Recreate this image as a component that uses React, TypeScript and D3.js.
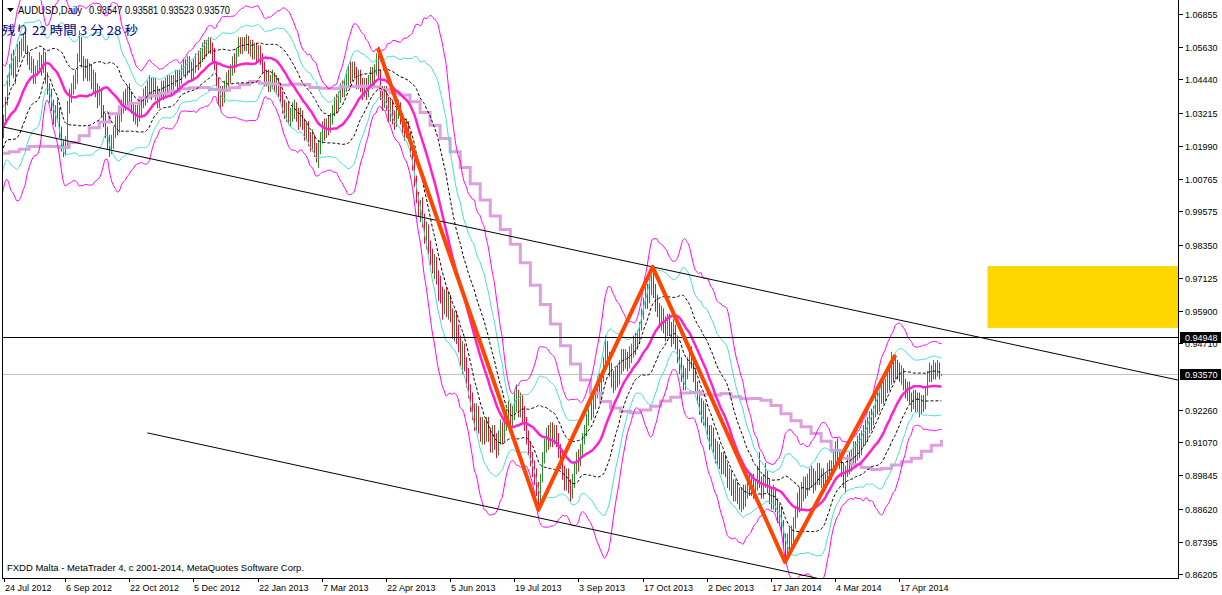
import React from 'react';
import * as d3 from 'd3';

// ---------- text / labels ----------
const symbolLabel = 'AUDUSD,Daily';
const quote = [0.93547, 0.93581, 0.93523, 0.9357];
const countdown = '残り 22 時間 3 分 28 秒';
const copyright = 'FXDD Malta - MetaTrader 4, c 2001-2014, MetaQuotes Software Corp.';

const dateLabels = ['24 Jul 2012', '6 Sep 2012', '22 Oct 2012', '5 Dec 2012', '22 Jan 2013', '7 Mar 2013', '22 Apr 2013', '5 Jun 2013', '19 Jul 2013', '3 Sep 2013', '17 Oct 2013', '2 Dec 2013', '17 Jan 2014', '4 Mar 2014', '17 Apr 2014'];
const dateLabelBars = [0, 32, 64, 96, 128, 160, 192, 224, 256, 288, 320, 352, 384, 416, 448];
const priceTicks = [1.06855, 1.0563, 1.0444, 1.03215, 1.0199, 1.00765, 0.99575, 0.9835, 0.97125, 0.959, 0.9471, 0.9226, 0.9107, 0.89845, 0.8862, 0.87395, 0.86205];

// ---------- price data (daily bars, index 0 = 24 Jul 2012) ----------
const priorCloses = [1.0120, 1.0100, 1.0150, 1.0250, 1.0280, 1.0320, 1.0340, 1.0270, 1.0220, 1.0190, 1.0170, 1.0240, 1.0200, 1.0270, 1.0300, 1.0330, 1.0400, 1.0420, 1.0350, 1.0270];
const priorWeeklyCloses = [1.0440, 1.0350, 1.0300, 1.0400, 1.0330, 1.0430, 1.0170, 1.0000, 0.9800, 0.9830, 0.9690, 0.9910, 1.0050, 1.0030, 1.0230, 1.0240, 1.0270, 1.0350];

const closes = [
  1.0240,1.0300,1.0365,1.0440,1.0480,1.0520,1.0470,1.0510,1.0560,1.0545,
  1.0575,1.0590,1.0560,1.0520,1.0495,1.0510,1.0450,1.0480,1.0500,1.0520,
  1.0480,1.0530,1.0450,1.0410,1.0390,1.0350,1.0300,1.0330,1.0320,1.0250,
  1.0200,1.0180,1.0220,1.0350,1.0380,1.0410,1.0440,1.0450,1.0530,1.0580,
  1.0510,1.0470,1.0500,1.0460,1.0480,1.0430,1.0450,1.0400,1.0370,1.0390,
  1.0330,1.0300,1.0250,1.0220,1.0190,1.0210,1.0250,1.0290,1.0270,1.0310,
  1.0340,1.0380,1.0360,1.0400,1.0370,1.0340,1.0310,1.0330,1.0300,1.0330,
  1.0360,1.0390,1.0380,1.0410,1.0430,1.0400,1.0430,1.0400,1.0370,1.0390,
  1.0420,1.0400,1.0430,1.0420,1.0440,1.0410,1.0440,1.0460,1.0430,1.0460,
  1.0480,1.0500,1.0480,1.0510,1.0490,1.0470,1.0500,1.0520,1.0510,1.0540,
  1.0560,1.0550,1.0570,1.0580,1.0560,1.0540,1.0500,1.0440,1.0380,1.0400,
  1.0370,1.0420,1.0450,1.0440,1.0480,1.0510,1.0500,1.0540,1.0580,1.0560,
  1.0580,1.0570,1.0590,1.0560,1.0570,1.0540,1.0560,1.0530,1.0550,1.0520,
  1.0490,1.0440,1.0460,1.0420,1.0440,1.0450,1.0420,1.0440,1.0400,1.0380,
  1.0350,1.0320,1.0340,1.0300,1.0310,1.0330,1.0350,1.0310,1.0290,1.0320,
  1.0280,1.0250,1.0270,1.0230,1.0200,1.0230,1.0180,1.0160,1.0190,1.0230,
  1.0260,1.0240,1.0280,1.0260,1.0300,1.0330,1.0360,1.0350,1.0380,1.0410,
  1.0400,1.0430,1.0450,1.0480,1.0460,1.0490,1.0470,1.0440,1.0460,1.0420,
  1.0400,1.0430,1.0400,1.0440,1.0470,1.0430,1.0480,1.0520,1.0470,1.0400,
  1.0370,1.0390,1.0360,1.0320,1.0350,1.0310,1.0290,1.0320,1.0340,1.0300,
  1.0270,1.0250,1.0280,1.0240,1.0190,1.0130,1.0080,1.0010,0.9960,0.9980,
  0.9930,0.9870,0.9890,0.9830,0.9800,0.9760,0.9780,0.9720,0.9670,0.9660,
  0.9620,0.9650,0.9600,0.9630,0.9580,0.9530,0.9560,0.9510,0.9480,0.9420,
  0.9450,0.9400,0.9350,0.9300,0.9250,0.9230,0.9180,0.9220,0.9170,0.9140,
  0.9170,0.9130,0.9180,0.9140,0.9100,0.9140,0.9120,0.9080,0.9120,0.9160,
  0.9130,0.9170,0.9200,0.9230,0.9190,0.9210,0.9250,0.9270,0.9230,0.9260,
  0.9210,0.9180,0.9130,0.9090,0.9050,0.9010,0.8990,0.8950,0.8900,0.8970,
  0.9050,0.9090,0.9140,0.9110,0.9150,0.9120,0.9150,0.9110,0.9080,0.9050,
  0.9000,0.8960,0.8990,0.8950,0.8930,0.8960,0.9010,0.9050,0.9030,0.9080,
  0.9120,0.9150,0.9190,0.9230,0.9210,0.9260,0.9290,0.9330,0.9310,0.9350,
  0.9400,0.9450,0.9420,0.9380,0.9340,0.9310,0.9360,0.9330,0.9380,0.9430,
  0.9400,0.9420,0.9390,0.9430,0.9450,0.9480,0.9460,0.9500,0.9530,0.9580,
  0.9620,0.9650,0.9630,0.9680,0.9700,0.9670,0.9620,0.9600,0.9560,0.9590,
  0.9540,0.9520,0.9560,0.9530,0.9500,0.9530,0.9480,0.9430,0.9400,0.9360,
  0.9330,0.9360,0.9400,0.9430,0.9410,0.9360,0.9320,0.9280,0.9250,0.9210,
  0.9240,0.9190,0.9150,0.9120,0.9150,0.9100,0.9060,0.9090,0.9040,0.9020,
  0.9050,0.9010,0.8970,0.8990,0.8950,0.8920,0.8950,0.8910,0.8890,0.8920,
  0.8900,0.8930,0.8960,0.8940,0.8970,0.8930,0.8950,0.9000,0.8960,0.8930,
  0.8960,0.8990,0.8950,0.8920,0.8890,0.8920,0.8880,0.8840,0.8860,0.8800,
  0.8750,0.8700,0.8750,0.8730,0.8770,0.8810,0.8850,0.8900,0.8880,0.8920,
  0.8950,0.8930,0.8970,0.8960,0.8990,0.8950,0.8980,0.9000,0.8970,0.8990,
  0.8950,0.8970,0.9010,0.8990,0.9020,0.9050,0.9080,0.9060,0.9040,0.9010,
  0.8970,0.9000,0.9040,0.9010,0.9050,0.9080,0.9060,0.9100,0.9080,0.9120,
  0.9150,0.9130,0.9170,0.9200,0.9180,0.9220,0.9260,0.9240,0.9280,0.9300,
  0.9280,0.9320,0.9350,0.9330,0.9380,0.9360,0.9400,0.9380,0.9360,0.9370,
  0.9320,0.9290,0.9310,0.9270,0.9250,0.9280,0.9240,0.9270,0.9230,0.9260,
  0.9240,0.9290,0.9350,0.9380,0.9350,0.9390,0.9360,0.9390,0.9355,0.9357,
];

const highs = [
  1.0310,1.0315,1.0380,1.0460,1.0500,1.0540,1.0555,1.0530,1.0575,1.0585,
  1.0595,1.0610,1.0620,1.0570,1.0545,1.0530,1.0520,1.0495,1.0515,1.0545,
  1.0535,1.0560,1.0545,1.0470,1.0430,1.0410,1.0370,1.0350,1.0370,1.0340,
  1.0270,1.0220,1.0235,1.0365,1.0410,1.0430,1.0460,1.0480,1.0540,1.0625,
  1.0600,1.0530,1.0520,1.0520,1.0505,1.0500,1.0480,1.0470,1.0430,1.0420,
  1.0410,1.0350,1.0320,1.0270,1.0240,1.0240,1.0270,1.0310,1.0320,1.0330,
  1.0370,1.0400,1.0410,1.0420,1.0430,1.0400,1.0360,1.0350,1.0350,1.0360,
  1.0380,1.0410,1.0420,1.0440,1.0460,1.0450,1.0450,1.0450,1.0420,1.0410,
  1.0440,1.0440,1.0450,1.0460,1.0460,1.0460,1.0460,1.0480,1.0480,1.0480,
  1.0500,1.0520,1.0520,1.0530,1.0530,1.0510,1.0520,1.0540,1.0550,1.0560,
  1.0580,1.0590,1.0590,1.0600,1.0600,1.0580,1.0560,1.0510,1.0450,1.0420,
  1.0420,1.0440,1.0470,1.0480,1.0500,1.0530,1.0540,1.0560,1.0600,1.0600,
  1.0600,1.0600,1.0610,1.0605,1.0590,1.0590,1.0580,1.0580,1.0570,1.0570,
  1.0540,1.0510,1.0480,1.0480,1.0460,1.0480,1.0470,1.0460,1.0450,1.0420,
  1.0400,1.0370,1.0360,1.0360,1.0340,1.0360,1.0370,1.0360,1.0340,1.0340,
  1.0330,1.0300,1.0290,1.0290,1.0250,1.0260,1.0240,1.0210,1.0220,1.0250,
  1.0290,1.0300,1.0300,1.0310,1.0320,1.0350,1.0380,1.0390,1.0400,1.0430,
  1.0440,1.0450,1.0480,1.0500,1.0510,1.0510,1.0510,1.0490,1.0480,1.0480,
  1.0450,1.0450,1.0450,1.0460,1.0490,1.0490,1.0500,1.0540,1.0565,1.0480,
  1.0420,1.0420,1.0420,1.0380,1.0370,1.0370,1.0330,1.0340,1.0370,1.0360,
  1.0320,1.0290,1.0300,1.0290,1.0250,1.0200,1.0150,1.0090,1.0030,1.0000,
  1.0010,0.9950,0.9920,0.9910,0.9850,0.9820,0.9800,0.9790,0.9740,0.9720,
  0.9680,0.9670,0.9680,0.9660,0.9650,0.9600,0.9590,0.9590,0.9540,0.9500,
  0.9480,0.9470,0.9420,0.9380,0.9320,0.9290,0.9250,0.9250,0.9240,0.9200,
  0.9200,0.9190,0.9200,0.9200,0.9160,0.9170,0.9170,0.9140,0.9150,0.9190,
  0.9180,0.9200,0.9230,0.9260,0.9250,0.9240,0.9290,0.9320,0.9300,0.9290,
  0.9280,0.9240,0.9200,0.9150,0.9110,0.9070,0.9040,0.9010,0.8960,0.8990,
  0.9070,0.9120,0.9160,0.9170,0.9180,0.9180,0.9170,0.9170,0.9140,0.9100,
  0.9070,0.9020,0.9010,0.9010,0.8970,0.8990,0.9030,0.9070,0.9080,0.9100,
  0.9140,0.9170,0.9210,0.9250,0.9270,0.9280,0.9310,0.9350,0.9360,0.9370,
  0.9420,0.9500,0.9480,0.9440,0.9400,0.9370,0.9380,0.9390,0.9410,0.9450,
  0.9450,0.9450,0.9440,0.9460,0.9470,0.9500,0.9510,0.9520,0.9550,0.9600,
  0.9640,0.9680,0.9690,0.9710,0.9730,0.9753,0.9690,0.9650,0.9620,0.9610,
  0.9600,0.9570,0.9580,0.9580,0.9550,0.9560,0.9540,0.9490,0.9450,0.9420,
  0.9390,0.9380,0.9420,0.9450,0.9460,0.9420,0.9380,0.9330,0.9300,0.9270,
  0.9260,0.9250,0.9200,0.9170,0.9170,0.9160,0.9120,0.9110,0.9100,0.9070,
  0.9070,0.9060,0.9030,0.9010,0.9000,0.8970,0.8970,0.8960,0.8940,0.8940,
  0.8950,0.8950,0.8980,0.8990,0.8990,0.8990,0.8970,0.9020,0.9070,0.8980,
  0.8990,0.9030,0.9000,0.8970,0.8940,0.8950,0.8940,0.8900,0.8880,0.8870,
  0.8820,0.8770,0.8770,0.8790,0.8800,0.8830,0.8870,0.8920,0.8940,0.8960,
  0.8980,0.8980,0.8990,0.9010,0.9020,0.9010,0.9000,0.9030,0.9030,0.9010,
  0.9010,0.8990,0.9030,0.9040,0.9040,0.9080,0.9110,0.9120,0.9080,0.9060,
  0.9030,0.9020,0.9060,0.9070,0.9080,0.9110,0.9110,0.9130,0.9140,0.9150,
  0.9170,0.9190,0.9200,0.9220,0.9230,0.9240,0.9280,0.9290,0.9300,0.9330,
  0.9330,0.9340,0.9370,0.9380,0.9440,0.9410,0.9430,0.9410,0.9400,0.9390,
  0.9380,0.9340,0.9330,0.9330,0.9290,0.9300,0.9300,0.9290,0.9290,0.9280,
  0.9280,0.9310,0.9370,0.9400,0.9390,0.9410,0.9400,0.9410,0.9400,0.93581,
];

const lows = [
  1.0215,1.0230,1.0290,1.0350,1.0420,1.0460,1.0450,1.0430,1.0490,1.0510,
  1.0530,1.0550,1.0540,1.0500,1.0480,1.0470,1.0430,1.0430,1.0460,1.0480,
  1.0460,1.0470,1.0430,1.0390,1.0360,1.0330,1.0280,1.0270,1.0290,1.0230,
  1.0180,1.0160,1.0165,1.0200,1.0320,1.0360,1.0390,1.0410,1.0430,1.0510,
  1.0490,1.0440,1.0450,1.0440,1.0440,1.0410,1.0400,1.0380,1.0340,1.0350,
  1.0310,1.0270,1.0230,1.0190,1.0160,1.0170,1.0190,1.0230,1.0240,1.0250,
  1.0290,1.0320,1.0330,1.0350,1.0350,1.0320,1.0290,1.0280,1.0270,1.0290,
  1.0310,1.0340,1.0350,1.0360,1.0380,1.0370,1.0380,1.0370,1.0340,1.0340,
  1.0370,1.0370,1.0380,1.0390,1.0390,1.0390,1.0390,1.0420,1.0410,1.0410,
  1.0430,1.0460,1.0450,1.0460,1.0470,1.0440,1.0450,1.0470,1.0480,1.0490,
  1.0510,1.0520,1.0530,1.0540,1.0540,1.0510,1.0480,1.0420,1.0350,1.0340,
  1.0345,1.0360,1.0400,1.0410,1.0430,1.0460,1.0470,1.0490,1.0530,1.0540,
  1.0540,1.0550,1.0550,1.0540,1.0530,1.0520,1.0520,1.0510,1.0510,1.0500,
  1.0470,1.0420,1.0420,1.0400,1.0400,1.0410,1.0400,1.0390,1.0380,1.0360,
  1.0320,1.0300,1.0290,1.0280,1.0270,1.0290,1.0300,1.0290,1.0260,1.0270,
  1.0260,1.0220,1.0220,1.0200,1.0180,1.0180,1.0160,1.0140,1.0120,1.0170,
  1.0210,1.0220,1.0230,1.0240,1.0250,1.0280,1.0310,1.0320,1.0330,1.0360,
  1.0380,1.0380,1.0400,1.0420,1.0430,1.0440,1.0450,1.0410,1.0410,1.0400,
  1.0370,1.0380,1.0370,1.0380,1.0420,1.0410,1.0420,1.0460,1.0450,1.0370,
  1.0330,1.0340,1.0330,1.0290,1.0290,1.0280,1.0260,1.0270,1.0300,1.0280,
  1.0240,1.0220,1.0230,1.0220,1.0160,1.0110,1.0050,0.9990,0.9940,0.9920,
  0.9900,0.9840,0.9820,0.9800,0.9760,0.9730,0.9710,0.9690,0.9630,0.9620,
  0.9560,0.9580,0.9570,0.9560,0.9550,0.9490,0.9480,0.9470,0.9440,0.9390,
  0.9360,0.9370,0.9310,0.9270,0.9220,0.9190,0.9150,0.9150,0.9140,0.9110,
  0.9100,0.9100,0.9110,0.9110,0.9070,0.9070,0.9080,0.9050,0.9060,0.9100,
  0.9100,0.9110,0.9150,0.9170,0.9160,0.9160,0.9190,0.9220,0.9200,0.9200,
  0.9180,0.9150,0.9100,0.9060,0.9020,0.8980,0.8950,0.8910,0.8857,0.8890,
  0.8960,0.9030,0.9070,0.9080,0.9090,0.9090,0.9100,0.9090,0.9050,0.9010,
  0.8970,0.8930,0.8930,0.8920,0.8890,0.8900,0.8940,0.8990,0.9000,0.9020,
  0.9060,0.9100,0.9130,0.9170,0.9190,0.9200,0.9230,0.9270,0.9280,0.9290,
  0.9330,0.9380,0.9390,0.9350,0.9310,0.9290,0.9300,0.9310,0.9320,0.9360,
  0.9370,0.9380,0.9370,0.9380,0.9400,0.9420,0.9430,0.9450,0.9470,0.9520,
  0.9560,0.9600,0.9600,0.9620,0.9650,0.9640,0.9590,0.9570,0.9530,0.9520,
  0.9510,0.9480,0.9500,0.9500,0.9460,0.9470,0.9450,0.9400,0.9360,0.9330,
  0.9300,0.9300,0.9340,0.9370,0.9380,0.9330,0.9290,0.9250,0.9210,0.9180,
  0.9170,0.9160,0.9120,0.9080,0.9090,0.9070,0.9030,0.9020,0.9010,0.8990,
  0.8990,0.8980,0.8940,0.8930,0.8910,0.8890,0.8890,0.8880,0.8860,0.8850,
  0.8860,0.8870,0.8900,0.8910,0.8910,0.8900,0.8900,0.8930,0.8940,0.8900,
  0.8900,0.8940,0.8920,0.8880,0.8860,0.8860,0.8850,0.8810,0.8800,0.8770,
  0.8720,0.8665,0.8680,0.8700,0.8700,0.8740,0.8790,0.8830,0.8850,0.8860,
  0.8890,0.8900,0.8910,0.8930,0.8940,0.8920,0.8930,0.8950,0.8950,0.8940,
  0.8920,0.8930,0.8950,0.8960,0.8970,0.9000,0.9020,0.9030,0.9010,0.8980,
  0.8940,0.8920,0.8980,0.8990,0.9000,0.9030,0.9020,0.9040,0.9050,0.9060,
  0.9090,0.9100,0.9110,0.9140,0.9150,0.9170,0.9200,0.9210,0.9220,0.9250,
  0.9250,0.9260,0.9290,0.9300,0.9320,0.9330,0.9340,0.9340,0.9330,0.9320,
  0.9300,0.9270,0.9260,0.9250,0.9220,0.9230,0.9220,0.9220,0.9200,0.9210,
  0.9220,0.9230,0.9280,0.9330,0.9330,0.9340,0.9340,0.9350,0.9340,0.93523,
];

// ---------- drawn objects ----------
const zigzagPoints = [
  { bar: 188, price: 1.0560 },
  { bar: 268, price: 0.8857 },
  { bar: 325, price: 0.9753 },
  { bar: 391, price: 0.8665 },
  { bar: 446, price: 0.9428 },
];
const upperTrend = [{ bar: 1, price: 1.0269 }, { bar: 325, price: 0.9753 }];
const lowerTrend = [{ bar: 73, price: 0.9141 }, { bar: 379, price: 0.8650 }];
const levelLine = 0.94948;
const bidPrice = 0.9357;
const zone = { bar1: 492, bar2: 620, top: 0.9756, bottom: 0.9528 };

const BB_PERIOD = 21;
const WEEK_MA = 19;

const FONT = 'Liberation Sans, Arial, sans-serif';

export default function App() {
  const W = 1222, H = 595;
  const plotL = 2, plotR = 1178, plotB = 578;
  const xs = d3.scaleLinear().domain([0, 587]).range([1, 1178]);
  const ys = d3.scaleLinear().domain([0.86059, 1.07297]).range([578, 2]);

  // bars
  let upPath = '';
  let dnPath = '';
  closes.forEach((c, i) => {
    const open = i === 0 ? priorCloses[priorCloses.length - 1] : closes[i - 1];
    const x = Math.round(xs(i)) + 0.5;
    const seg = `M${x},${ys(highs[i]).toFixed(1)}V${(ys(lows[i]) + 0.5).toFixed(1)}`;
    if (c >= open) upPath += seg; else dnPath += seg;
  });

  // Bollinger bands (21, ±1/2/3σ)
  const all = [...priorCloses, ...closes];
  const P = priorCloses.length;
  const bb = closes.map((_, i) => {
    const win = all.slice(i + P - BB_PERIOD + 1, i + P + 1);
    const m = d3.mean(win) as number;
    const sd = Math.sqrt(d3.mean(win, (v) => (v - m) ** 2) as number);
    return { i, m, sd };
  });
  const bandLine = (k: number) =>
    d3.line<any>().x((d) => xs(d.i)).y((d) => ys(d.m + k * d.sd)).curve(d3.curveMonotoneX)(bb) || '';

  // weekly SMA shown stepped
  const weekOf = (i: number) => Math.floor((i + 1) / 5);
  const weekly: number[] = [];
  closes.forEach((c, i) => { weekly[weekOf(i)] = c; });
  const wk = [...priorWeeklyCloses, ...weekly];
  const Q = priorWeeklyCloses.length;
  const lav = closes.map((_, i) => {
    const w = weekOf(i) + Q;
    return { i, v: d3.mean(wk.slice(w - WEEK_MA + 1, w + 1)) as number };
  });
  const lavPath = d3.line<any>().x((d) => xs(d.i)).y((d) => ys(d.v)).curve(d3.curveStepAfter)(lav) || '';

  const zigPath = d3.line<any>().x((d) => xs(d.bar)).y((d) => ys(d.price))(zigzagPoints) || '';

  const ray = (pts: { bar: number; price: number }[], fromBar: number, toBar: number) => {
    const [a, b] = pts;
    const slope = (b.price - a.price) / (b.bar - a.bar);
    const p = (bar: number) => a.price + (bar - a.bar) * slope;
    return { x1: xs(fromBar), y1: ys(p(fromBar)), x2: xs(toBar), y2: ys(p(toBar)) };
  };
  const t1 = ray(upperTrend, -5, 620);
  const t2 = ray(lowerTrend, lowerTrend[0].bar, 620);

  const levelY = Math.round(ys(levelLine)) + 0.5;
  const bidY = Math.round(ys(bidPrice)) + 0.5;

  return (
    <svg width={W} height={H} style={{ position: 'absolute', left: 0, top: 0, background: '#fff' }} fontFamily={FONT}>
      <defs>
        <clipPath id="plotClip">
          <rect x={plotL + 1} y={0} width={plotR - plotL - 1} height={plotB} />
        </clipPath>
      </defs>
      <rect x={0} y={0} width={W} height={H} fill="#ffffff" />
      <g clipPath="url(#plotClip)">
        <rect x={xs(zone.bar1)} y={ys(zone.top)} width={xs(zone.bar2) - xs(zone.bar1)} height={ys(zone.bottom) - ys(zone.top)} fill="#ffd700" />
        <line x1={plotL} x2={plotR} y1={bidY} y2={bidY} stroke="#c0c0c0" strokeWidth={1} />
        <path d={upPath} stroke="#2e8b2e" strokeWidth={1} fill="none" />
        <path d={dnPath} stroke="#dc143c" strokeWidth={1} fill="none" />
        <path d={lavPath} stroke="#dda0dd" strokeWidth={3} fill="none" />
        <path d={bandLine(3)} stroke="#ff00ff" strokeWidth={1} fill="none" />
        <path d={bandLine(-3)} stroke="#ff00ff" strokeWidth={1} fill="none" />
        <path d={bandLine(2)} stroke="#40e0d0" strokeWidth={1} fill="none" />
        <path d={bandLine(-2)} stroke="#40e0d0" strokeWidth={1} fill="none" />
        <path d={bandLine(1)} stroke="#000" strokeWidth={1} strokeDasharray="3,2" fill="none" />
        <path d={bandLine(-1)} stroke="#000" strokeWidth={1} strokeDasharray="3,2" fill="none" />
        <path d={bandLine(0)} stroke="#ff20d0" strokeWidth={2.5} fill="none" />
        <line {...t1} stroke="#000" strokeWidth={1} />
        <line {...t2} stroke="#000" strokeWidth={1} />
        <line x1={plotL} x2={plotR} y1={levelY} y2={levelY} stroke="#000" strokeWidth={1} />
        <path d={zigPath} stroke="#ff4500" strokeWidth={4} fill="none" strokeLinejoin="round" />
      </g>

      {/* frame */}
      <line x1={plotL + 0.5} x2={plotL + 0.5} y1={0} y2={plotB + 0.5} stroke="#000" />
      <line x1={plotR + 0.5} x2={plotR + 0.5} y1={0} y2={plotB + 0.5} stroke="#000" />
      <line x1={plotL} x2={plotR + 1} y1={plotB + 0.5} y2={plotB + 0.5} stroke="#000" />

      {/* price axis */}
      {priceTicks.map((p) => {
        const ty = Math.round(ys(p)) + 0.5;
        return (
          <g key={p}>
            <line x1={plotR + 1} x2={plotR + 5} y1={ty} y2={ty} stroke="#000" />
            <text x={1185} y={ty + 3.5} fontSize={9} fill="#000">{p.toFixed(5)}</text>
          </g>
        );
      })}
      {[levelLine, bidPrice].map((p) => {
        const ty = Math.round(ys(p)) + 0.5;
        return (
          <g key={'box' + p}>
            <rect x={1180} y={ty - 5.5} width={41} height={11} fill="#000" />
            <text x={1185} y={ty + 3.5} fontSize={9} fill="#fff">{p.toFixed(5)}</text>
          </g>
        );
      })}

      {/* time axis */}
      {dateLabels.map((lab, k) => {
        const tx = Math.max(Math.round(xs(dateLabelBars[k])), 4) + 0.5;
        return (
          <g key={lab}>
            <line x1={tx} x2={tx} y1={plotB} y2={plotB + 4} stroke="#000" />
            <text x={Math.max(tx + 0.5, 3)} y={591} fontSize={9} fill="#000">{lab}</text>
          </g>
        );
      })}

      {/* header */}
      <polygon points="7,8 14,8 10.5,12" fill="#000" />
      <text x={18} y={14} fontSize={10} fill="#000" textLength={64} lengthAdjust="spacingAndGlyphs">{symbolLabel}</text>
      <text x={89} y={14} fontSize={10} fill="#000" textLength={141} lengthAdjust="spacingAndGlyphs">{quote.map((v) => v.toFixed(5)).join(' ')}</text>
      <text x={2} y={35} fontSize={12} fill="#000080" fontFamily="Noto Sans CJK JP" textLength={136} lengthAdjust="spacingAndGlyphs">{countdown}</text>
      <text x={7} y={571} fontSize={9} fill="#000" textLength={297} lengthAdjust="spacingAndGlyphs">{copyright}</text>
    </svg>
  );
}
